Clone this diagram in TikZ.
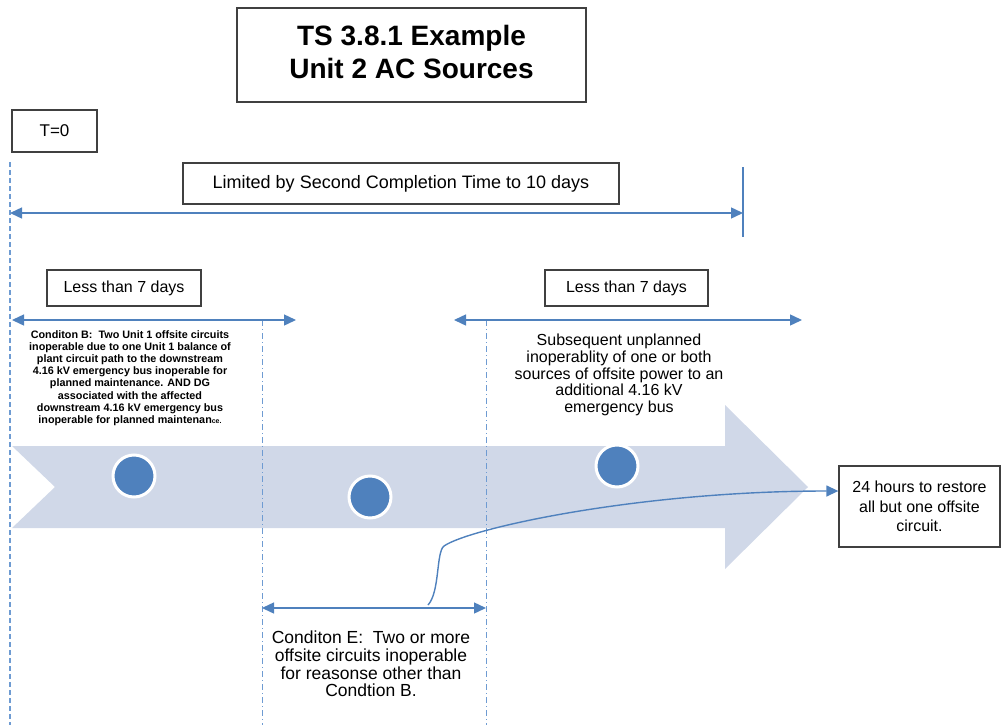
\documentclass[tikz,border=0pt]{standalone}
\usepackage{fontspec}
\setmainfont{Liberation Sans}
\usetikzlibrary{arrows.meta}
\definecolor{ablue}{RGB}{79,129,189}
\definecolor{lblue}{RGB}{110,155,210}
\definecolor{band}{RGB}{208,216,232}
\tikzset{
  box/.style={draw=black!75, line width=1.3pt, fill=white, inner sep=0pt, align=center},
  span/.style={draw=ablue, line width=1.4pt, {Triangle[length=12pt,width=11pt]}-{Triangle[length=12pt,width=11pt]}},
  guide/.style={draw=lblue, line width=1.2pt, dash pattern=on 5pt off 3pt},
  guidedd/.style={draw=lblue, line width=1pt, dash pattern=on 6pt off 3pt on 1pt off 3pt},
  dot/.style={circle, fill=ablue, draw=white, line width=3pt, minimum size=42pt, inner sep=0pt},
  lbl/.style={align=center, inner sep=0pt}
}
\begin{document}
\begin{tikzpicture}[x=1pt,y=-1pt]
\useasboundingbox (0,0) rectangle (1001,725);
% guide lines
\coordinate (g0t) at (10,162); \coordinate (g0b) at (10,725);
\coordinate (g1t) at (262,320); \coordinate (g1b) at (262,725);
\coordinate (g2t) at (486,320); \coordinate (g2b) at (486,725);
% big arrow band
\fill[band] (12,446) -- (725,446) -- (725,405) -- (808,487) -- (725,569) -- (725,528) -- (12,528) -- (55,487) -- cycle;
\draw[guide] (g0t) -- (g0b);
\draw[guidedd] (g1t) -- (g1b);
\draw[guidedd] (g2t) -- (g2b);
% title
\node[box, minimum width=349pt, minimum height=94pt, font=\fontsize{28}{34}\selectfont\bfseries] (title) at (411.5,55) {\raisebox{4pt}{\begin{tabular}{@{}c@{}}TS 3.8.1 Example\\[-1pt] Unit 2 AC Sources\end{tabular}}};
\node[box, minimum width=85pt, minimum height=42pt, font=\fontsize{17}{20}\selectfont] (t0) at (54.5,131) {T=0};
\node[box, minimum width=436pt, minimum height=41pt, font=\fontsize{18}{21}\selectfont] (lim) at (401,183.5) {Limited by Second Completion Time to 10 days};
% 10 days arrow
\coordinate (a0l) at (10,213); \coordinate (a0r) at (743,213);
\coordinate (endt) at (743,167); \coordinate (endb) at (743,237);
\draw[span] (a0l) -- (a0r);
\draw[draw=ablue, line width=2pt] (endt) -- (endb);
% less than 7 days
\node[box, minimum width=154pt, minimum height=36pt, font=\fontsize{16}{19}\selectfont] (l7a) at (124,288) {Less than 7 days};
\node[box, minimum width=163pt, minimum height=36pt, font=\fontsize{16}{19}\selectfont] (l7b) at (626.5,288) {Less than 7 days};
\coordinate (a1l) at (12,320); \coordinate (a1r) at (296,320);
\coordinate (a2l) at (454,320); \coordinate (a2r) at (802,320);
\draw[span] (a1l) -- (a1r);
\draw[span] (a2l) -- (a2r);
% condition B text
\node[lbl, font=\fontsize{10.8}{12.2}\selectfont\bfseries] (condB) at (130,378) {Conditon B:\ \ Two Unit 1 offsite circuits\\ inoperable due to one Unit 1 balance of\\ plant circuit path to the downstream\\ 4.16 kV emergency bus inoperable for\\ planned maintenance. AND DG\\ associated with the affected\\ downstream 4.16 kV emergency bus\\ inoperable for planned maintenan{\fontsize{7}{8}\selectfont ce.}};
% subsequent text
\node[lbl, font=\fontsize{16}{16.8}\selectfont] (subs) at (619,375) {Subsequent unplanned\\ inoperablity of one or both\\ sources of offsite power to an\\ additional 4.16 kV\\ emergency bus};
% circles
\node[dot] (c1) at (134,476) {};
\node[dot] (c2) at (370,497) {};
\node[dot] (c3) at (617,466) {};
% 24 hours box
\node[box, minimum width=161pt, minimum height=81pt, font=\fontsize{16}{19.5}\selectfont] (h24) at (919.5,506.5) {24 hours to restore\\ all but one offsite\\ circuit.};
% condition E
\coordinate (a3l) at (262,608); \coordinate (a3r) at (486,608);
\draw[span] (a3l) -- (a3r);
\node[lbl, font=\fontsize{17.5}{17.8}\selectfont] (condE) at (371,664) {Conditon E:\ \ Two or more\\ offsite circuits inoperable\\ for reasonse other than\\ Condtion B.};
% curve
\coordinate (cs) at (428,605);
\coordinate (cm) at (444,546);
\draw[draw=ablue, line width=1.4pt, -{Triangle[length=12pt,width=11pt]}] (cs) .. controls (440,592) and (436,552) .. (cm) .. controls (470,528) and (640,491) .. (h24.west |- 0,491);
\end{tikzpicture}
\end{document}
